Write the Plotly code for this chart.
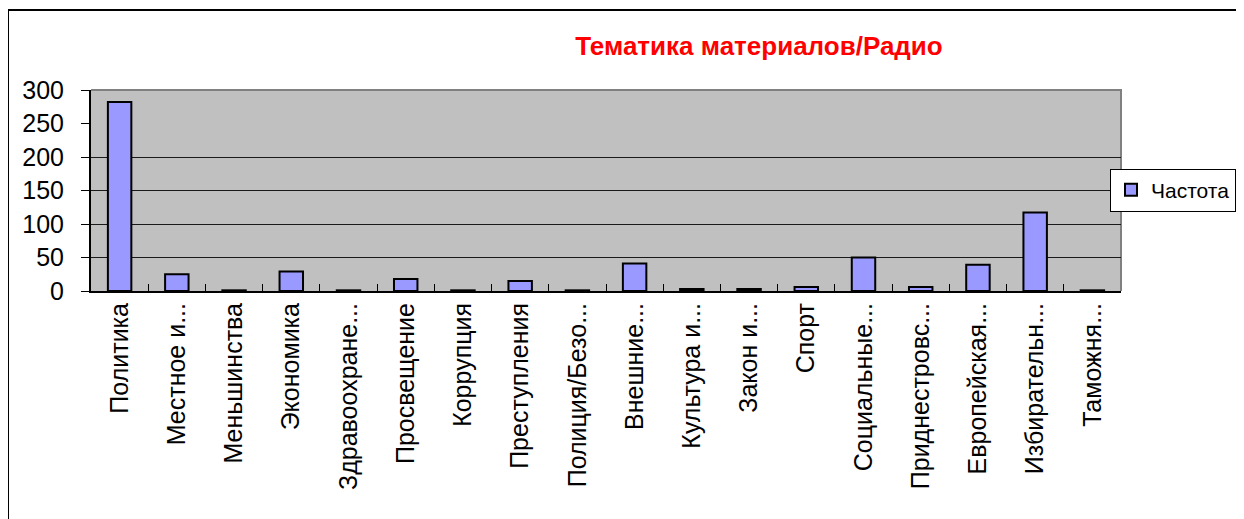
import plotly.graph_objects as go

categories = ["Политика", "Местное и...", "Меньшинства", "Экономика", "Здравоохране...",
              "Просвещение", "Коррупция", "Преступления", "Полиция/Безо...", "Внешние...",
              "Культура и...", "Закон и...", "Спорт", "Социальные...", "Приднестровс...",
              "Европейская...", "Избирательн...", "Таможня..."]
values = [282, 25, 1, 29, 1, 18, 1, 15, 1, 41, 3, 3, 6, 50, 6, 39, 117, 1]
series_name = "Частота"
title_text = "Тематика материалов/Радио"
y_ticks = [0, 50, 100, 150, 200, 250, 300]
grid_ticks = [50, 100, 150, 200]

FONT = "Liberation Sans, Arial, sans-serif"
OFF = 8  # body margin of the html page

fig = go.Figure()
fig.add_trace(go.Bar(
    x=categories, y=values, name=series_name,
    marker=dict(color="#9999FF", line=dict(color="black", width=2)),
    width=0.41, showlegend=True,
))
# overlay axis only for gridlines
fig.add_trace(go.Scatter(x=[categories[0]], y=[0], yaxis="y2", mode="markers",
                         marker=dict(opacity=0), showlegend=False, hoverinfo="skip"))

fig.update_layout(
    width=1244, height=519,
    margin=dict(l=91 - OFF, r=131, t=90 - OFF, b=236, autoexpand=False),
    paper_bgcolor="white", plot_bgcolor="#C0C0C0",
    title=dict(text=title_text, x=(759 - OFF) / 1244, xanchor="center", y=1 - (46 - OFF) / 519,
               yanchor="middle",
               font=dict(family=FONT, size=26, color="#FF0000", weight="bold")),
    font=dict(family=FONT, color="black"),
    xaxis=dict(tickangle=-90, tickfont=dict(size=25, family=FONT), showgrid=False,
               showline=True, linecolor="black", linewidth=2, ticks="inside", tickson="boundaries",
               ticklen=7, tickcolor="black", tickwidth=1, range=[-0.5, len(categories) - 0.5]),
    yaxis=dict(range=[0, 300], tickvals=y_ticks, showgrid=False, zeroline=False,
               showline=True, linecolor="black", linewidth=2, ticks="outside", ticklen=8,
               tickcolor="black", tickfont=dict(size=25, family=FONT), ticklabelstandoff=12),
    yaxis2=dict(range=[0, 300], overlaying="y", tickvals=grid_ticks, showgrid=True,
                gridcolor="#1a1a1a", gridwidth=1, showticklabels=False, zeroline=False, showline=False),
    legend=dict(x=(1110 - 91) / 1030, xanchor="left", y=(291 - 190) / 201, yanchor="middle",
                bgcolor="white", bordercolor="black", borderwidth=1,
                font=dict(size=21, family=FONT), itemwidth=30, tracegroupgap=0),
    bargap=0.59,
    shapes=[
        dict(type="path", xref="paper", yref="paper", path="M 0,1 L 1,1 L 1,0",
             line=dict(color="#808080", width=2), layer="below"),
        dict(type="rect", xref="paper", yref="paper", x0=(8 - 91) / 1030, x1=(1260 - 91) / 1030,
             y0=(291 - 540) / 201, y1=(291 - 10) / 201, line=dict(color="black", width=2)),
    ],
)

fig.write_html("out.html")
